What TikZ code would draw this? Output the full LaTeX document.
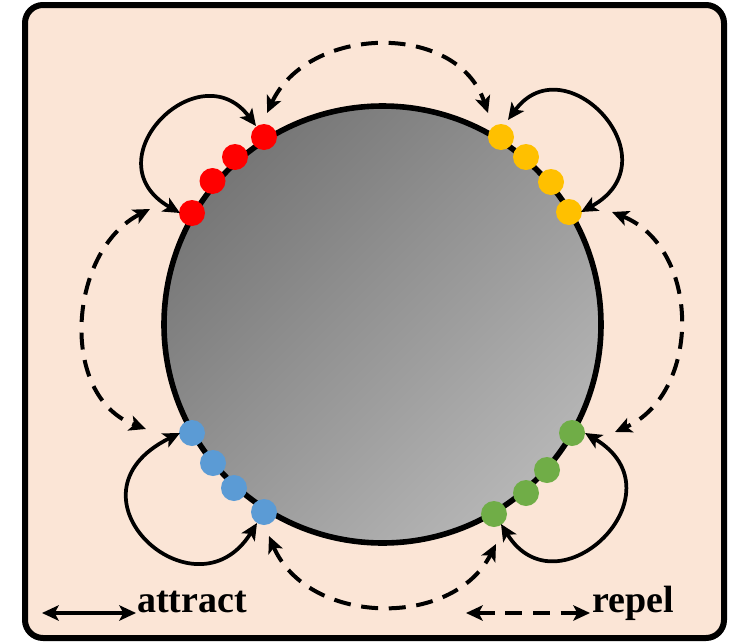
\documentclass[tikz,border=0pt]{standalone}
\usepackage{fontspec}
\setmainfont{Liberation Serif}
\usetikzlibrary{arrows.meta,calc}

\definecolor{panelbg}{HTML}{FBE5D6}
\definecolor{dotred}{HTML}{FF0000}
\definecolor{dotyellow}{HTML}{FFC000}
\definecolor{dotblue}{HTML}{5B9BD5}
\definecolor{dotgreen}{HTML}{70AD47}
\definecolor{coredark}{HTML}{767676}
\definecolor{corelight}{HTML}{B6B6B6}

\begin{document}
\begin{tikzpicture}[x=0.75pt,y=-0.75pt,
  >={Stealth[length=12.5pt,width=11.5pt,inset=3pt]},
  dot/.style={circle,minimum size=19.5pt,inner sep=0pt,fill=#1},
  attract/.style={line width=2.8pt,<->},
  repel/.style={line width=3pt,<->,dash pattern=on 12.75pt off 8pt},
  legendtext/.style={inner sep=0pt,font=\fontsize{28.5}{34}\selectfont\bfseries}
]
\useasboundingbox (0,0) rectangle (733,643);

% panel
\draw[line width=4.5pt,rounded corners=13.5pt,fill=panelbg] (25,5) rectangle (724,638);

% core particle
\node[circle,minimum size=327.75pt,inner sep=0pt,line width=4.2pt,draw=black,
      shading=axis,top color=coredark,bottom color=corelight,shading angle=45]
      (core) at (382.5,324.5) {};

% surface sites
\node[dot=dotred] (r1) at (264,137) {};
\node[dot=dotred] (r2) at (235,157) {};
\node[dot=dotred] (r3) at (212.5,181) {};
\node[dot=dotred] (r4) at (192,213) {};
\node[dot=dotyellow] (y1) at (501,137) {};
\node[dot=dotyellow] (y2) at (526,157) {};
\node[dot=dotyellow] (y3) at (551,182) {};
\node[dot=dotyellow] (y4) at (569,212) {};
\node[dot=dotblue] (b1) at (192,433) {};
\node[dot=dotblue] (b2) at (213,463) {};
\node[dot=dotblue] (b3) at (234,488) {};
\node[dot=dotblue] (b4) at (264,512) {};
\node[dot=dotgreen] (g1) at (572,433) {};
\node[dot=dotgreen] (g2) at (547,470) {};
\node[dot=dotgreen] (g3) at (526,493) {};
\node[dot=dotgreen] (g4) at (494,514) {};

% arrow ends beside the sites
\coordinate (ra1) at ($(r1)+(-8,-11)$);
\coordinate (ra4) at ($(r4)+(-12,0)$);
\coordinate (ya1) at ($(y1)+(7,-17)$);
\coordinate (ya4) at ($(y4)+(12,0)$);
\coordinate (ba1) at ($(b1)+(-12,0)$);
\coordinate (ba4) at ($(b4)+(-7,11)$);
\coordinate (ga1) at ($(g1)+(13,0)$);
\coordinate (ga4) at ($(g4)+(7,10)$);

\coordinate (rt) at ($(r1)+(3,-24)$);
\coordinate (yt) at ($(y1)+(-13,-24)$);
\coordinate (bt) at ($(b4)+(5,24)$);
\coordinate (gt) at ($(g4)+(2,30)$);
\coordinate (rs) at ($(r4)+(-42,-4)$);
\coordinate (bs) at ($(b1)+(-46,-4)$);
\coordinate (ys) at ($(y4)+(43,0)$);
\coordinate (gs) at ($(g1)+(43,-1)$);

% attraction within each group
\draw[attract] (ra1) .. controls +(-57,-76) and +(-91,-52) .. (ra4);
\draw[attract] (ya1) .. controls +(57,-78) and +(95,-52) .. (ya4);
\draw[attract] (ba4) .. controls +(-62,100) and +(-125,62) .. (ba1);
\draw[attract] (ga4) .. controls +(57,92) and +(100,60) .. (ga1);

% repulsion between groups
\draw[repel] (rt) .. controls +(41,-88) and +(-31,-92) .. (yt);
\draw[repel] (bt) .. controls +(38,89) and +(-44,86) .. (gt);
\draw[repel] (rs) .. controls +(-82,42) and +(-88,-32) .. (bs);
\draw[repel] (ys) .. controls +(89,36) and +(87,-39) .. (gs);

% legend
\node[legendtext,anchor=base west] (lbl-attract) at (137,612) {attract};
\node[legendtext,anchor=base west] (lbl-repel) at (592,612) {repel};
\coordinate (att-start) at (42,613);
\coordinate (rep-start) at (466,613);
\draw[attract] (att-start) -- ($(lbl-attract.base west)+(-1,1)$);
\draw[repel] (rep-start) -- ($(lbl-repel.base west)+(-2,1)$);
\end{tikzpicture}
\end{document}
